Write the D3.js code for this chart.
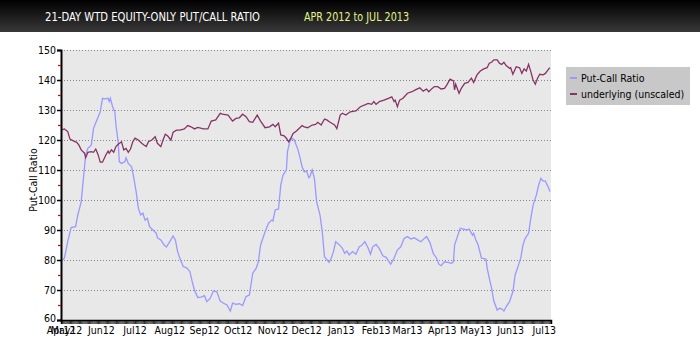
<!DOCTYPE html>
<html><head><meta charset="utf-8">
<script src="https://cdn.jsdelivr.net/npm/d3@7"></script>
<style>
body{margin:0;background:#fff}
svg{display:block}
text{font-family:"DejaVu Sans Condensed","DejaVu Sans","Liberation Sans Narrow",sans-serif}
</style>
</head><body>
<svg id="c" width="700" height="350"></svg>
<script>
const titleMain = "21-DAY WTD EQUITY-ONLY PUT/CALL RATIO";
const titleRange = "APR 2012 to JUL 2013";
const yAxisTitle = "Put-Call Ratio";
const seriesNames = ["Put-Call Ratio", "underlying (unscaled)"];
const yMajorTicks = [60,70,80,90,100,110,120,130,140,150];
const yMinorTicks = [65,75,85,95,105,115,125,135,145];
const xTickDates = ["2012-04-26","2012-05-01","2012-06-01","2012-07-01","2012-08-01","2012-09-01","2012-10-01","2012-11-01","2012-12-01","2013-01-01","2013-02-01","2013-03-01","2013-04-01","2013-05-01","2013-06-01","2013-07-01"];
const xTickLabels = ["Apr12","May12","Jun12","Jul12","Aug12","Sep12","Oct12","Nov12","Dec12","Jan13","Feb13","Mar13","Apr13","May13","Jun13","Jul13"];
const xDomain = ["2012-04-26","2013-07-07"];

const pcrDates = [
"2012-04-26","2012-04-29","2012-05-02","2012-05-05","2012-05-09","2012-05-11","2012-05-14","2012-05-16","2012-05-18","2012-05-20","2012-05-23","2012-05-25","2012-05-28","2012-05-31",
"2012-06-02","2012-06-04","2012-06-07","2012-06-08","2012-06-09","2012-06-11","2012-06-13","2012-06-14","2012-06-16","2012-06-17","2012-06-19","2012-06-22","2012-06-23","2012-06-25","2012-06-28","2012-06-30",
"2012-07-02","2012-07-04","2012-07-06","2012-07-08","2012-07-10","2012-07-12","2012-07-14","2012-07-17","2012-07-20","2012-07-21","2012-07-24","2012-07-27","2012-07-29",
"2012-08-01","2012-08-04","2012-08-06","2012-08-08","2012-08-10","2012-08-13","2012-08-16","2012-08-19","2012-08-21","2012-08-23","2012-08-26","2012-08-29",
"2012-09-01","2012-09-03","2012-09-06","2012-09-09","2012-09-12","2012-09-15","2012-09-18","2012-09-21","2012-09-24","2012-09-26","2012-09-29",
"2012-10-02","2012-10-05","2012-10-08","2012-10-11","2012-10-14","2012-10-17","2012-10-19","2012-10-21","2012-10-25","2012-10-28","2012-10-31",
"2012-11-01","2012-11-03","2012-11-06","2012-11-08","2012-11-10","2012-11-13","2012-11-14","2012-11-16","2012-11-18","2012-11-20","2012-11-23","2012-11-25","2012-11-27","2012-11-29",
"2012-12-01","2012-12-03","2012-12-04","2012-12-06","2012-12-08","2012-12-10","2012-12-13","2012-12-15","2012-12-17","2012-12-21","2012-12-23","2012-12-25","2012-12-27","2012-12-31",
"2013-01-02","2013-01-04","2013-01-06","2013-01-08","2013-01-11","2013-01-14","2013-01-17","2013-01-19","2013-01-22","2013-01-25","2013-01-27","2013-01-29",
"2013-02-01","2013-02-04","2013-02-07","2013-02-10","2013-02-14","2013-02-17","2013-02-20","2013-02-23","2013-02-26",
"2013-03-01","2013-03-04","2013-03-07","2013-03-10","2013-03-13","2013-03-16","2013-03-18","2013-03-21","2013-03-24","2013-03-27","2013-03-29","2013-03-31",
"2013-04-03","2013-04-06","2013-04-09","2013-04-11","2013-04-12","2013-04-14","2013-04-17","2013-04-20","2013-04-23","2013-04-25","2013-04-28","2013-04-29",
"2013-05-01","2013-05-03","2013-05-06","2013-05-10","2013-05-11","2013-05-13","2013-05-15","2013-05-17","2013-05-20","2013-05-22","2013-05-24","2013-05-26","2013-05-28","2013-05-31",
"2013-06-03","2013-06-05","2013-06-08","2013-06-10","2013-06-12","2013-06-14","2013-06-17","2013-06-19","2013-06-21","2013-06-24","2013-06-26","2013-06-28","2013-06-30",
"2013-07-02","2013-07-05","2013-07-06"];
const pcrValues = [
79.7,80.6,86.1,90.8,91.1,95,99.4,107.2,115,117.2,118.3,123.9,126.7,129.4,
133.9,133.7,133.9,132.8,133.9,131.1,129.4,125,119.4,112.8,112.2,112.8,114.1,112.2,111.1,107.2,
102.8,97.2,95,95.6,93.3,93.9,91.1,90,88.9,87.4,86.7,85,84.3,
86.1,88,86.7,82.8,80.6,77.8,77.4,76.1,72.8,70,67.5,67.6,
68.1,66.1,67.2,69.7,69.4,66.3,65.6,65,63,65.6,65.2,
65.4,64.8,67.8,68.3,75.6,77.2,79.4,85,89.4,92.2,93.3,
93,96.7,97,105,108.3,110,116.1,119.4,120.6,120,117.2,114.4,111.1,109.4,
109.7,107.4,107.8,110,107.2,99.4,95,89.4,81.1,79.2,80.6,82.8,86.1,84.8,
83.9,82.2,83,81.7,82.8,81.9,84.4,84.8,86.1,83.9,81.9,84.4,
85.2,83.7,81.4,80.9,78.6,80.6,83.3,84.4,87.2,
87.8,87,87.4,86.7,86.1,87.2,87.8,85.9,82.2,80.6,78.6,78.1,
79.4,79.2,78.9,79.4,85,87.2,90.6,90.3,90,90.3,88.3,88.9,
86.7,85,80.6,80.3,77.4,73.9,70.6,66.3,63.3,63.9,63.7,63,64.4,66.1,
69.4,75,78.3,80.6,85,87.2,88.9,93.9,98.3,101.7,105,107.2,106.3,
106.3,103.9,102.8];

const undDates = [
"2012-04-26","2012-04-29","2012-05-02","2012-05-04","2012-05-07","2012-05-10","2012-05-12","2012-05-14","2012-05-17","2012-05-18","2012-05-20","2012-05-23","2012-05-25","2012-05-27","2012-05-29","2012-05-31",
"2012-06-02","2012-06-05","2012-06-07","2012-06-08","2012-06-10","2012-06-12","2012-06-14","2012-06-16","2012-06-19","2012-06-21","2012-06-23","2012-06-25","2012-06-27","2012-06-29",
"2012-07-01","2012-07-04","2012-07-07","2012-07-09","2012-07-11","2012-07-13","2012-07-16","2012-07-19","2012-07-21","2012-07-24","2012-07-26","2012-07-28","2012-07-30",
"2012-08-02","2012-08-04","2012-08-07","2012-08-10","2012-08-14","2012-08-17","2012-08-20","2012-08-23","2012-08-26","2012-08-31",
"2012-09-04","2012-09-07","2012-09-11","2012-09-15","2012-09-17","2012-09-22","2012-09-26","2012-09-29",
"2012-10-02","2012-10-05","2012-10-08","2012-10-11","2012-10-14","2012-10-18","2012-10-21","2012-10-25","2012-10-29",
"2012-11-01","2012-11-03","2012-11-06","2012-11-08","2012-11-11","2012-11-13","2012-11-15","2012-11-17","2012-11-19","2012-11-22","2012-11-25","2012-11-27","2012-11-29",
"2012-12-02","2012-12-06","2012-12-09","2012-12-11","2012-12-14","2012-12-17","2012-12-19","2012-12-22","2012-12-26","2012-12-28","2012-12-31",
"2013-01-02","2013-01-05","2013-01-09","2013-01-14","2013-01-18","2013-01-22","2013-01-25","2013-01-28","2013-01-30",
"2013-02-01","2013-02-04","2013-02-08","2013-02-12","2013-02-15","2013-02-17","2013-02-18","2013-02-20","2013-02-22","2013-02-25",
"2013-03-01","2013-03-05","2013-03-08","2013-03-12","2013-03-15","2013-03-18","2013-03-20","2013-03-23","2013-03-25","2013-03-28","2013-03-31",
"2013-04-03","2013-04-05","2013-04-08","2013-04-11","2013-04-12","2013-04-13","2013-04-16","2013-04-18","2013-04-21","2013-04-24","2013-04-27","2013-04-29",
"2013-05-02","2013-05-05","2013-05-08","2013-05-11","2013-05-13","2013-05-15","2013-05-17","2013-05-20","2013-05-22","2013-05-24","2013-05-26","2013-05-28","2013-05-31",
"2013-06-01","2013-06-03","2013-06-06","2013-06-09","2013-06-11","2013-06-13","2013-06-15","2013-06-17","2013-06-19","2013-06-21","2013-06-23","2013-06-25","2013-06-27","2013-06-30",
"2013-07-02","2013-07-05","2013-07-06"];
const undValues = [
123.3,123.7,122.8,120.3,119.7,119.2,118.3,116.7,115.6,114.1,115.9,116.1,115.9,117,115.2,112.6,
112.6,115,116.3,115.6,116.7,115.9,117.8,118.6,119.4,116.7,117.2,115.9,117,119.4,
120.6,120,118.9,118.3,117.8,119.4,120,121.1,118.9,117.8,120,121.9,121.4,
120,122.6,123.3,123.3,123.7,124.8,124.4,123.7,124.2,123.7,
123.7,126.3,126.7,128.9,128.6,128.3,126.3,127.2,
127.4,128.6,127.8,126.1,125.9,128.3,126.3,124.1,124.4,
125.2,124.4,125.6,121.7,121.4,120.6,119.4,120.6,122.2,123,124.1,124.8,124.4,
124.1,125,125.2,125.9,125,127,126.7,125.9,125,123.8,128.3,
128.9,128.3,129.4,129.7,131.1,131.7,132.2,131.9,132.8,
131.9,132.8,133.3,133.9,134.4,132.8,133.3,131.1,133.3,133.9,
135.6,136.1,136.7,137.4,136.3,137,136.1,137.2,137.8,137.8,137,
137.2,138.3,140.3,139.7,136.7,138.6,135.6,137.2,138.9,139.2,140.6,139.2,
141.7,143,143.7,144.1,145.6,145.9,146.7,146.7,145.6,145.2,145.9,144.8,143.9,
144.1,141.9,144.4,144.1,142.2,143.7,143,145.2,142.8,140,138.6,140.6,141.9,141.7,
142.2,143.7,144.1];

const colors = ["#9999ff", "#883366"];

const parse = d3.timeParse("%Y-%m-%d");
const svg = d3.select("#c");

// title bar
const defs = svg.append("defs");
const g = defs.append("linearGradient").attr("id","tg").attr("x1",0).attr("y1",0).attr("x2",0).attr("y2",1);
g.append("stop").attr("offset","0%").attr("stop-color","#000");
g.append("stop").attr("offset","100%").attr("stop-color","#383838");
svg.append("rect").attr("x",0).attr("y",0).attr("width",700).attr("height",32).attr("fill","url(#tg)");
svg.append("text").attr("x",45).attr("y",21).attr("fill","#fff").attr("font-size",13)
  .attr("textLength",215).attr("lengthAdjust","spacingAndGlyphs").text(titleMain);
svg.append("text").attr("x",304).attr("y",21).attr("fill","#e4f28a").attr("font-size",13)
  .attr("textLength",105).attr("lengthAdjust","spacingAndGlyphs").text(titleRange);

const x = d3.scaleTime().domain(xDomain.map(parse)).range([61,551]);
const y = d3.scaleLinear().domain([60,150]).range([320,50]);

// plot bg
svg.append("rect").attr("x",61).attr("y",50).attr("width",490).attr("height",270).attr("fill","#e8e8e8");

// grid
svg.append("g").selectAll("line").data(yMajorTicks.filter(v=>v>60)).join("line")
  .attr("x1",61).attr("x2",551).attr("y1",d=>y(d)+0.5).attr("y2",d=>y(d)+0.5)
  .attr("stroke","#888").attr("stroke-width",1).attr("stroke-dasharray","1,2");

// lines
const pcr = pcrDates.map((d,i)=>({date:parse(d), v:pcrValues[i]}));
const und = undDates.map((d,i)=>({date:parse(d), v:undValues[i]}));
const line = d3.line().x(d=>x(d.date)).y(d=>y(d.v));
svg.append("path").datum(pcr).attr("d",line).attr("fill","none").attr("stroke",colors[0]).attr("stroke-width",1.3);
svg.append("path").datum(und).attr("d",line).attr("fill","none").attr("stroke",colors[1]).attr("stroke-width",1.3);

// y axis
const yAx = svg.append("g").attr("transform","translate(61,0)")
  .call(d3.axisLeft(y).tickValues(yMajorTicks).tickSize(4).tickFormat(d3.format("d")));
yAx.select(".domain").attr("stroke","#000").attr("stroke-width",2);
yAx.selectAll(".tick line").attr("stroke","#000").attr("stroke-width",1.5);
yAx.selectAll(".tick text").attr("font-size",10.5).attr("fill","#000").attr("x",-5).attr("font-family",'"DejaVu Sans Condensed","DejaVu Sans",sans-serif');
yAx.selectAll(".tick").filter(d=>d===60).select("text").attr("dy","0.1em");
const yMin = svg.append("g").attr("transform","translate(61,0)")
  .call(d3.axisLeft(y).tickValues(yMinorTicks).tickSize(3).tickFormat(""));
yMin.select(".domain").remove();
yMin.selectAll(".tick line").attr("stroke","#e00000").attr("stroke-width",1.2);

svg.append("text").attr("transform","translate(37,180) rotate(-90)").attr("text-anchor","middle")
  .attr("font-size",10.5).attr("fill","#000").text(yAxisTitle);

// x axis: dense daily ticks
const xAx = svg.append("g").attr("transform","translate(0,320)")
  .call(d3.axisBottom(x).ticks(d3.timeDay.every(1)).tickSize(4).tickFormat(""));
xAx.select(".domain").attr("stroke","#000").attr("stroke-width",1.5);
xAx.selectAll(".tick line").attr("stroke","#000").attr("stroke-width",0.8);

// x labels
svg.append("g").selectAll("text").data(xTickDates).join("text")
  .attr("x",d=>x(parse(d))).attr("y",334).attr("text-anchor","middle")
  .attr("font-size",10.5).attr("fill","#000").text((d,i)=>xTickLabels[i]);

// legend
const lg = svg.append("g");
lg.append("rect").attr("x",566).attr("y",67).attr("width",124).attr("height",38).attr("fill","#c8c8c8");
seriesNames.forEach((n,i)=>{
  const yy = 78 + i*16;
  lg.append("line").attr("x1",570).attr("x2",577).attr("y1",yy).attr("y2",yy).attr("stroke",colors[i]).attr("stroke-width",2);
  lg.append("text").attr("x",581).attr("y",yy+3.5).attr("font-size",10.5).attr("fill","#000").text(n);
});
</script>
</body></html>
